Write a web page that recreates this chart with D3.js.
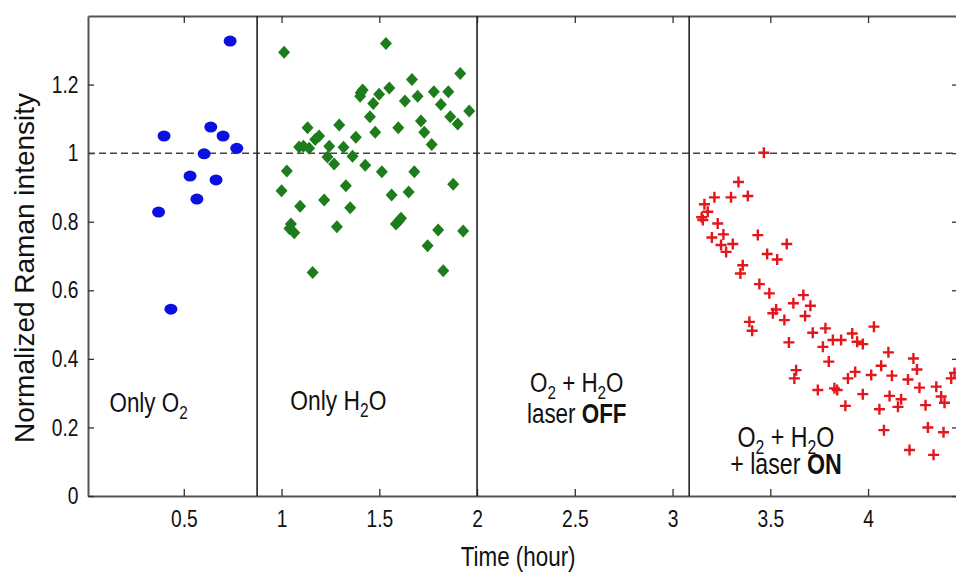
<!DOCTYPE html>
<html>
<head>
<meta charset="utf-8">
<script src="https://cdn.jsdelivr.net/npm/d3@7"></script>
<style>
  body { margin: 0; background: #fff; }
  text { font-family: "Liberation Sans", Arial, sans-serif; fill: #111; }
</style>
</head>
<body>
<div id="chart"></div>
<script>
const width = 956, height = 574;

/* points: [time (hour), normalized intensity] */
const only_o2 = [
  [0.737, 1.327], [0.399, 1.050], [0.638, 1.076], [0.701, 1.050], [0.771, 1.014],
  [0.604, 0.998], [0.532, 0.933], [0.665, 0.922], [0.567, 0.866], [0.371, 0.828],
  [0.434, 0.545]
];

const only_h2o = [
  [1.013, 1.294], [1.534, 1.320], [1.914, 1.232], [1.667, 1.215], [1.551, 1.190],
  [1.415, 1.184], [1.402, 1.166], [1.499, 1.172], [1.696, 1.166], [1.779, 1.179],
  [1.853, 1.179], [1.631, 1.152], [1.815, 1.142], [1.469, 1.145], [1.960, 1.123],
  [1.452, 1.106], [1.863, 1.106], [1.901, 1.085], [1.713, 1.094], [1.730, 1.061],
  [1.597, 1.074], [1.479, 1.061], [1.295, 1.082], [1.133, 1.074], [1.192, 1.050],
  [1.380, 1.046], [1.768, 1.025], [1.090, 1.018], [1.141, 1.014], [1.244, 1.020],
  [1.317, 1.017], [1.363, 0.991], [1.235, 0.989], [1.269, 0.968], [1.428, 0.965],
  [1.513, 0.946], [1.679, 0.946], [1.027, 0.948], [1.329, 0.905], [1.878, 0.909],
  [1.000, 0.890], [1.563, 0.878], [1.650, 0.887], [1.218, 0.863], [1.095, 0.845],
  [1.351, 0.841], [1.048, 0.793], [1.065, 0.768], [1.283, 0.785], [1.611, 0.810],
  [1.585, 0.793], [1.801, 0.776], [1.929, 0.773], [1.747, 0.730], [1.159, 0.652],
  [1.827, 0.657], [1.112, 1.020], [1.172, 1.040], [1.405, 1.176], [1.040, 0.780],
  [1.600, 0.802]
];

const laser_on = [
  [3.467, 1.001], [3.337, 0.916], [3.214, 0.871], [3.299, 0.871], [3.385, 0.875],
  [3.163, 0.851], [3.180, 0.829], [3.149, 0.813], [3.155, 0.805], [3.231, 0.795],
  [3.201, 0.754], [3.260, 0.763], [3.248, 0.732], [3.308, 0.735], [3.274, 0.712],
  [3.436, 0.761], [3.584, 0.735], [3.484, 0.706], [3.535, 0.690], [3.359, 0.673],
  [3.347, 0.649], [3.444, 0.618], [3.495, 0.591], [3.669, 0.586], [3.618, 0.562],
  [3.705, 0.555], [3.530, 0.544], [3.513, 0.533], [3.572, 0.513], [3.678, 0.525],
  [3.393, 0.508], [3.407, 0.482], [3.717, 0.476], [3.782, 0.489], [4.030, 0.494],
  [3.919, 0.474], [3.820, 0.455], [3.862, 0.455], [3.944, 0.450], [3.973, 0.443],
  [3.595, 0.448], [3.769, 0.435], [4.104, 0.419], [4.232, 0.401], [4.250, 0.369],
  [3.799, 0.392], [4.067, 0.380], [3.934, 0.362], [4.016, 0.353], [3.897, 0.343],
  [4.122, 0.351], [4.204, 0.340], [4.263, 0.316], [4.349, 0.319], [3.632, 0.367],
  [3.623, 0.343], [3.743, 0.309], [3.842, 0.309], [3.828, 0.314], [3.973, 0.297],
  [4.110, 0.292], [4.169, 0.282], [4.294, 0.265], [3.884, 0.263], [4.058, 0.253],
  [4.153, 0.260], [4.391, 0.272], [4.425, 0.343], [4.374, 0.290], [4.081, 0.192],
  [4.306, 0.200], [4.386, 0.186], [4.212, 0.134], [4.335, 0.120], [4.442, 0.359]
];

/* phase boundaries (hour) */
const separators = [0.875, 2.0, 3.085];
const x_ticks = [0.5, 1, 1.5, 2, 2.5, 3, 3.5, 4];
const y_ticks = [0, 0.2, 0.4, 0.6, 0.8, 1, 1.2];
const reference_level = 1;

/* the original looks squeezed horizontally, texts too */
const sx = 0.8;

const x = d3.scaleLinear().domain([0.01, 4.46]).range([88, 958]);
const y = d3.scaleLinear().domain([0, 1.4]).range([496, 16]);

const svg = d3.select("#chart").append("svg")
    .attr("width", width)
    .attr("height", height);

// axes, ticks pointing inward
const axis_color = "#555";
function style_axis(g) {
  g.select(".domain").attr("stroke", axis_color).attr("stroke-width", 2);
  g.selectAll(".tick line").attr("stroke", "#333").attr("stroke-width", 1.3);
  g.selectAll(".tick text")
      .attr("font-size", 24)
      .attr("fill", "#111")
      .attr("font-family", "Liberation Sans, Arial, sans-serif");
}

svg.append("g")
    .attr("transform", `translate(0,${y(0)})`)
    .call(d3.axisBottom(x).tickValues(x_ticks).tickSize(-7).tickPadding(14)
      .tickFormat(d3.format("")).tickSizeOuter(0))
    .call(style_axis)
    .call(g => g.selectAll(".tick text").attr("transform", `scale(${sx},1)`));

svg.append("g")
    .attr("transform", `translate(0,${y(1.4)})`)
    .call(d3.axisTop(x).tickValues(x_ticks).tickSize(-7).tickFormat("").tickSizeOuter(0))
    .call(style_axis);

svg.append("g")
    .attr("transform", `translate(${x.range()[0]},0)`)
    .call(d3.axisLeft(y).tickValues(y_ticks).tickSize(-6).tickPadding(12)
      .tickFormat(d3.format("")).tickSizeOuter(0))
    .call(style_axis)
    .call(g => g.selectAll(".tick text").attr("transform", `scale(${sx},1)`));

svg.append("g")
    .attr("transform", `translate(${x.range()[1]},0)`)
    .call(d3.axisRight(y).tickValues(y_ticks).tickSize(-6).tickFormat("").tickSizeOuter(0))
    .call(style_axis);

// dashed line at 1
svg.append("line")
    .attr("x1", x.range()[0]).attr("x2", x.range()[1])
    .attr("y1", y(reference_level)).attr("y2", y(reference_level))
    .attr("stroke", "#444")
    .attr("stroke-width", 1.5)
    .attr("stroke-dasharray", "7,4");

// phase separators
svg.append("g").selectAll("line")
  .data(separators)
  .join("line")
    .attr("x1", d => x(d)).attr("x2", d => x(d))
    .attr("y1", y(1.4)).attr("y2", y(0))
    .attr("stroke", "#222")
    .attr("stroke-width", 1.6);

// only O2: blue dots
svg.append("g").selectAll("ellipse")
  .data(only_o2)
  .join("ellipse")
    .attr("cx", d => x(d[0]))
    .attr("cy", d => y(d[1]))
    .attr("rx", 6.5)
    .attr("ry", 5.5)
    .attr("fill", "#0a10e0");

// only H2O: green diamonds
svg.append("g").selectAll("path")
  .data(only_h2o)
  .join("path")
    .attr("transform", d => `translate(${x(d[0])},${y(d[1])})`)
    .attr("d", "M0,-6.5L6,0L0,6.5L-6,0Z")
    .attr("fill", "#1d7d1d");

// O2 + H2O + laser: red crosses
svg.append("g").selectAll("path")
  .data(laser_on)
  .join("path")
    .attr("transform", d => `translate(${x(d[0])},${y(d[1])})`)
    .attr("d", "M-5.5,0H5.5M0,-5.5V5.5")
    .attr("stroke", "#e3161c")
    .attr("stroke-width", 2.4)
    .attr("fill", "none");

// annotations; parts are [text, kind] with kind "", "sub" or "bold"
function label(px, py, anchor, parts, size) {
  const t = svg.append("text")
      .attr("transform", `translate(${px},${py}) scale(${sx},1)`)
      .attr("text-anchor", anchor)
      .attr("font-size", size);
  parts.forEach(([s, kind], i) => {
    const sp = t.append("tspan").text(s);
    if (kind === "sub") sp.attr("font-size", size * 0.68).attr("dy", 7);
    else if (i > 0 && parts[i - 1][1] === "sub") sp.attr("dy", -7);
    if (kind === "bold") sp.attr("font-weight", "bold");
  });
}

label(x(0.12), y(0.246), "start", [["Only O", ""], ["2", "sub"]], 28);
label(x(1.045), y(0.25), "start", [["Only H", ""], ["2", "sub"], ["O", ""]], 28.5);
label(x(2.51), y(0.302), "middle", [["O", ""], ["2", "sub"], [" + H", ""], ["2", "sub"], ["O", ""]], 28);
label(x(2.51), y(0.213), "middle", [["laser ", ""], ["OFF", "bold"]], 28);
label(x(3.58), y(0.143), "middle", [["O", ""], ["2", "sub"], [" + H", ""], ["2", "sub"], ["O", ""]], 29);
label(x(3.58), y(0.064), "middle", [["+ laser ", ""], ["ON", "bold"]], 29);

// axis titles
svg.append("text")
    .attr("transform", `translate(${x(2.21)},566) scale(${sx},1)`)
    .attr("text-anchor", "middle")
    .attr("font-size", 28)
    .text("Time (hour)");

svg.append("text")
    .attr("transform", `translate(34,268) rotate(-90)`)
    .attr("text-anchor", "middle")
    .attr("font-size", 28)
    .text("Normalized Raman intensity");
</script>
</body>
</html>
